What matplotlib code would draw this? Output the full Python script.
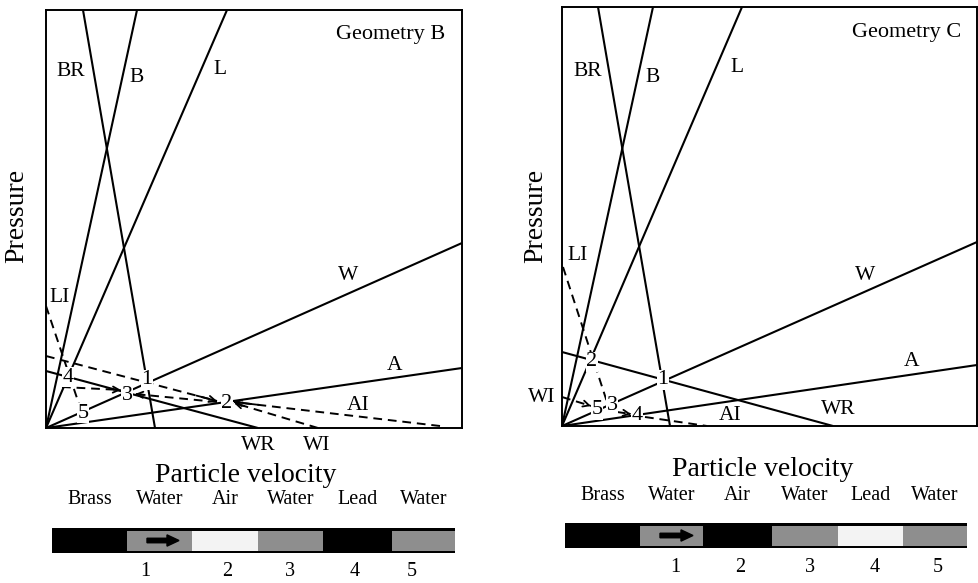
import matplotlib
matplotlib.use("Agg")
import matplotlib.pyplot as plt
from matplotlib.patches import Rectangle, FancyArrow

plt.rcParams['font.family'] = ['Liberation Serif', 'DejaVu Serif']

FIG_W, FIG_H = 979, 583

# ---------------- data (velocity u, pressure p, arbitrary units) ----------------
# Geometry B
gb_solid_names = ["B", "BR", "L", "W", "A", "WR"]
gb_solid_u = [(0, 91), (37, 109), (0, 181), (0, 416), (0, 416), (0, 212)]
gb_solid_p = [(0, 418), (418, 0), (0, 418), (0, 185), (0, 60), (57, 0)]
gb_dash_names = ["LI", "1-2", "AI", "WI", "2-3", "4-3"]
gb_dash_u = [(0, 35), (0, 171), (394, 188), (272, 188), (171, 89), (16, 75)]
gb_dash_p = [(122, 18), (72, 27), (2, 26), (0, 25), (26, 34), (41, 38)]
gb_dash_arrow = [False, True, True, True, True, True]

# Geometry C
gc_solid_names = ["B", "BR", "L", "W", "A", "WR"]
gc_solid_u = [(0, 91), (36, 108), (0, 180), (0, 415), (0, 415), (0, 271)]
gc_solid_p = [(0, 419), (419, 0), (0, 419), (0, 184), (0, 61), (74, 0)]
gc_dash_names = ["LI", "WI", "3-4", "AI"]
gc_dash_u = [(1, 46), (0, 29), (55, 69), (83, 145)]
gc_dash_p = [(159, 21), (29, 20), (14, 12), (9, 0)]
gc_dash_arrow = [False, True, True, False]

materials = ["Brass", "Water", "Air", "Water", "Lead", "Water"]
gb_layer_width = [75, 65, 66, 65, 69, 63]
gc_layer_width = [75, 63, 69, 66, 65, 64]
gb_layer_fill = ["dark", "water", "light", "water", "dark", "water"]
gc_layer_fill = ["dark", "water", "dark", "water", "light", "water"]
state_labels = ["1", "2", "3", "4", "5"]

# ---------------- layout ----------------
gb_curve_text = {"BR": (25, 356), "B": (91, 351), "L": (174, 358), "W": (302, 153),
                 "LI": (14, 131), "A": (349, 63), "AI": (312, 23),
                 "WR": (212, -17), "WI": (271, -17)}
gb_point_text = [(101, 48), (181, 25), (81, 33), (22, 51), (37, 15)]
gc_curve_text = {"BR": (26, 355), "B": (91, 349), "L": (175, 358), "W": (303, 151),
                 "LI": (16, 171), "A": (350, 64), "AI": (168, 11),
                 "WR": (276, 16), "WI": (-20, 29)}
gc_point_text = [(101, 46), (30, 64), (50, 21), (75, 11), (35, 16)]

FILL = {"dark": "black", "water": "#8e8e8e", "light": "#f3f3f3"}


def px_axes(fig, x0, y_top, w, h):
    return fig.add_axes([x0 / FIG_W, 1 - (y_top + h) / FIG_H, w / FIG_W, h / FIG_H])


def ftext(fig, x, y, s, **kw):
    fig.text(x / FIG_W, 1 - y / FIG_H, s, ha="center", va="center", **kw)


def draw_panel(ax, xmax, ymax, solid_u, solid_p, dash_u, dash_p, dash_arrow,
               curve_text, point_text, title):
    ax.set_xlim(0, xmax)
    ax.set_ylim(0, ymax)
    ax.set_xticks([])
    ax.set_yticks([])
    for s in ax.spines.values():
        s.set_linewidth(1.4)
    for u, p in zip(solid_u, solid_p):
        ax.plot(u, p, color="black", lw=1.5, solid_capstyle="butt")
    for u, p, arr in zip(dash_u, dash_p, dash_arrow):
        ax.plot(u, p, color="black", lw=1.4, dashes=(4.5, 3))
        if arr:
            back = (u[1] + 0.12 * (u[0] - u[1]), p[1] + 0.12 * (p[0] - p[1]))
            ax.annotate("", xy=(u[1], p[1]), xytext=back,
                        arrowprops=dict(arrowstyle="->", lw=1.3, color="black",
                                        shrinkA=0, shrinkB=0, mutation_scale=11))
    for name, (x, y) in curve_text.items():
        ax.text(x, y, name, fontsize=15.5, ha="center", va="center")
    for lab, (x, y) in zip(state_labels, point_text):
        ax.text(x, y, lab, fontsize=16, ha="center", va="center", zorder=5,
                bbox=dict(facecolor="white", edgecolor="none", pad=0.3))
    ax.text(345, 393, title, fontsize=16, ha="center", va="center")


def draw_bar(ax, widths, fills, arrow_x):
    total = sum(widths)
    ax.set_xlim(0, total)
    ax.set_ylim(0, 1)
    ax.axis("off")
    ax.add_patch(Rectangle((0, 0), total, 1, facecolor="black", edgecolor="black", lw=1))
    x = 0
    centers = []
    for w, f in zip(widths, fills):
        if f != "dark":
            ax.add_patch(Rectangle((x, 0.1), w, 0.8, facecolor=FILL[f], edgecolor="none"))
        centers.append(x + w / 2)
        x += w
    ax.add_patch(FancyArrow(arrow_x[0], 0.5, arrow_x[1] - arrow_x[0], 0, width=0.18,
                            head_width=0.45, head_length=12, length_includes_head=True,
                            color="black"))
    return centers


fig = plt.figure(figsize=(FIG_W / 100, FIG_H / 100), dpi=100)

ax_b = px_axes(fig, 46, 10, 416, 418)
draw_panel(ax_b, 416, 418, gb_solid_u, gb_solid_p, gb_dash_u, gb_dash_p, gb_dash_arrow,
           gb_curve_text, gb_point_text, "Geometry B")
ax_c = px_axes(fig, 562, 7, 415, 419)
draw_panel(ax_c, 415, 419, gc_solid_u, gc_solid_p, gc_dash_u, gc_dash_p, gc_dash_arrow,
           gc_curve_text, gc_point_text, "Geometry C")

ftext(fig, 17, 216, "Pressure", fontsize=20, rotation=90)
ftext(fig, 536, 216, "Pressure", fontsize=20, rotation=90)
ftext(fig, 246, 475, "Particle velocity", fontsize=20)
ftext(fig, 763, 470, "Particle velocity", fontsize=20)

# material bars
for x0, y_top, widths, fills, arrow_x, y_mat, y_num, num_x in [
        (52, 528, gb_layer_width, gb_layer_fill, (95, 127), 500, 572, [145, 227, 290, 355, 412]),
        (565, 523, gc_layer_width, gc_layer_fill, (95, 128), 496, 567, [675, 740, 810, 875, 938])]:
    bax = px_axes(fig, x0, y_top, sum(widths), 25)
    centers = draw_bar(bax, widths, fills, arrow_x)
    for name, c in zip(materials, centers):
        ftext(fig, x0 + c, y_mat, name, fontsize=14.5)
    for lab, nx in zip(state_labels, num_x):
        ftext(fig, nx, y_num, lab, fontsize=14.5)

fig.savefig("out.png", dpi=100)
